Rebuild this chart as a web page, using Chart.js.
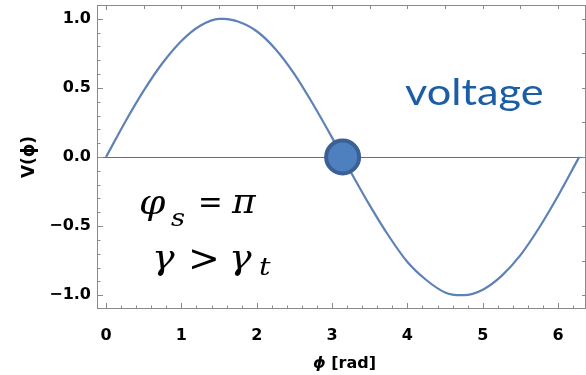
<!DOCTYPE html>
<html>
<head>
<meta charset="utf-8">
<script src="https://cdn.jsdelivr.net/npm/chart.js@4/dist/chart.umd.min.js"></script>
<style>
  html, body { margin: 0; padding: 0; background: #ffffff; }
  #wrap { position: relative; width: 586px; height: 375px; }
</style>
</head>
<body>
<div id="wrap"><canvas id="c" width="586" height="375"></canvas></div>
<script>
// Phase samples (rad) and the voltage read at each of them
const phase   = [0, 0.25, 0.5, 0.75, 1.0, 1.25, 1.5, 1.57, 1.75, 2.0, 2.25, 2.5, 2.75, 3.0, 3.25, 3.5, 3.75, 4.0, 4.25, 4.5, 4.71, 4.75, 5.0, 5.25, 5.5, 5.75, 6.0, 6.25, 6.28];
const voltage = [0, 0.25, 0.48, 0.68, 0.84, 0.95, 1.00, 1.00, 0.98, 0.91, 0.78, 0.60, 0.38, 0.14, -0.11, -0.35, -0.57, -0.76, -0.89, -0.98, -1.00, -1.00, -0.96, -0.86, -0.71, -0.51, -0.28, -0.03, 0.00];

// Synchronous phase marker
const syncPhase = [3.14];
const syncVolt  = [0];

// Tick labels
const xTickValues = [0, 1, 2, 3, 4, 5, 6];
const yTickValues = [-1, -0.5, 0, 0.5, 1];
const yTickLabels = ['\u22121.0', '\u22120.5', '0.0', '0.5', '1.0'];

const curve = phase.map((p, i) => ({ x: p, y: voltage[i] }));
const marker = syncPhase.map((p, i) => ({ x: p, y: syncVolt[i] }));

const FRAME = '#8a8a8a';
const AXIS_FONT = '"DejaVu Sans", "Liberation Sans", sans-serif';

// Mathematica-style frame with inward ticks on all four sides
const framePlugin = {
  id: 'frame',
  afterDraw(chart) {
    const { ctx, chartArea: a, scales: { x, y } } = chart;
    ctx.save();
    ctx.strokeStyle = FRAME;
    ctx.lineWidth = 1;
    ctx.strokeRect(a.left + 0.5, a.top + 0.5, a.right - a.left - 1, a.bottom - a.top - 1);
    ctx.beginPath();
    const eps = 1e-6;
    // bottom: minor every 0.2, major on integers
    for (let i = 0; i / 5 <= x.max + eps; i++) {
      const px = Math.round(x.getPixelForValue(i / 5)) + 0.5;
      const len = (i % 5 === 0) ? 6 : 3.5;
      ctx.moveTo(px, a.bottom); ctx.lineTo(px, a.bottom - len);
    }
    // top: every 0.5
    for (let i = 0; i / 2 <= x.max + eps; i++) {
      const px = Math.round(x.getPixelForValue(i / 2)) + 0.5;
      ctx.moveTo(px, a.top); ctx.lineTo(px, a.top + (i === 0 ? 5 : 4));
    }
    // left: minor every 0.1, major every 0.5
    for (let i = -10; i <= 10; i++) {
      const py = Math.round(y.getPixelForValue(i / 10)) + 0.5;
      const len = (i % 5 === 0) ? 6 : 3.5;
      ctx.moveTo(a.left, py); ctx.lineTo(a.left + len, py);
    }
    // right: every 0.25
    for (let i = -4; i <= 4; i++) {
      const py = Math.round(y.getPixelForValue(i / 4)) + 0.5;
      ctx.moveTo(a.right, py); ctx.lineTo(a.right - 4, py);
    }
    ctx.stroke();
    ctx.restore();
  }
};

// One glyph run, optionally stretched horizontally about its left edge
function glyph(ctx, text, font, x, baseline, sx) {
  ctx.save();
  ctx.font = font;
  ctx.translate(x, baseline);
  ctx.scale(sx || 1, 1);
  ctx.fillText(text, 0, 0);
  ctx.restore();
}

const notesPlugin = {
  id: 'notes',
  afterDraw(chart) {
    const ctx = chart.ctx;
    const a = chart.chartArea;
    ctx.save();
    ctx.textBaseline = 'alphabetic';
    ctx.textAlign = 'left';

    // series name
    ctx.fillStyle = '#1c5ea6';
    glyph(ctx, 'voltage', '37px Lato, "Open Sans", sans-serif', 405, 105, 1.17);

    // synchronous phase conditions
    ctx.fillStyle = '#000000';
    const it = 'italic 36px "DejaVu Serif", serif';
    const sub = 'italic 25px "DejaVu Serif", serif';
    const up = '31px "DejaVu Serif", serif';
    const upBig = '38px "DejaVu Serif", serif';
    glyph(ctx, '\u03C6', it, 139, 214, 1.05);
    glyph(ctx, 's', sub, 171, 226, 1.1);
    glyph(ctx, '=', up, 198, 213, 0.95);
    glyph(ctx, '\u03C0', it, 232, 213, 1.0);

    glyph(ctx, '\u03B3', it, 152, 269, 1.05);
    glyph(ctx, '>', upBig, 188, 271, 1.0);
    glyph(ctx, '\u03B3', it, 229, 269, 1.05);
    glyph(ctx, 't', sub, 259, 275, 1.15);

    // horizontal axis title: italic phase symbol followed by the unit
    ctx.fillStyle = '#000000';
    const fSym = 'italic bold 16px ' + AXIS_FONT;
    const fUnit = 'bold 16px ' + AXIS_FONT;
    ctx.font = fSym;  const w1 = ctx.measureText('\u03D5').width;
    ctx.font = fUnit; const w2 = ctx.measureText(' [rad]').width;
    const cx = (a.left + a.right) / 2 + 3;
    const x0 = cx - (w1 + w2) / 2;
    ctx.font = fSym;  ctx.fillText('\u03D5', x0, 368);
    ctx.font = fUnit; ctx.fillText(' [rad]', x0 + w1, 368);
    ctx.restore();
  }
};

new Chart(document.getElementById('c'), {
  type: 'scatter',
  data: {
    datasets: [
      {
        label: 'synchronous phase',
        data: marker,
        order: 0,
        pointRadius: 16.5,
        pointHoverRadius: 16.5,
        pointBackgroundColor: '#4e80bf',
        pointBorderColor: '#3a6096',
        pointBorderWidth: 4
      },
      {
        label: 'V(\u03D5)',
        data: curve,
        order: 1,
        showLine: true,
        pointRadius: 0,
        borderColor: '#5e81b6',
        borderWidth: 2.2,
        cubicInterpolationMode: 'monotone',
        fill: false
      }
    ]
  },
  options: {
    responsive: false,
    animation: false,
    events: [],
    layout: { autoPadding: false, padding: { left: 0, top: 5, right: 0, bottom: 0 } },
    plugins: { legend: { display: false }, tooltip: { enabled: false } },
    scales: {
      x: {
        type: 'linear',
        min: -0.12,
        max: 6.37,
        afterBuildTicks(s) { s.ticks = xTickValues.map(v => ({ value: v })); },
        afterFit(s) { s.height = 66; s.paddingLeft = 0; s.paddingRight = 0; },
        grid: { display: false },
        border: { display: false },
        ticks: {
          color: '#000',
          font: { family: AXIS_FONT, size: 16, weight: 'bold' },
          padding: 9,
          maxRotation: 0,
          callback: v => String(v)
        },
        title: { display: false }
      },
      y: {
        type: 'linear',
        min: -1.1,
        max: 1.1,
        afterBuildTicks(s) { s.ticks = yTickValues.map(v => ({ value: v })); },
        afterFit(s) { s.width = 97; s.paddingTop = 0; s.paddingBottom = 0; },
        grid: {
          display: true,
          drawTicks: false,
          lineWidth: 1,
          color: c => (c.tick && c.tick.value === 0) ? '#6e6e6e' : 'rgba(0,0,0,0)'
        },
        border: { display: false },
        ticks: {
          color: '#000',
          font: { family: AXIS_FONT, size: 16, weight: 'bold' },
          padding: 6,
          callback: (v) => yTickLabels[yTickValues.indexOf(v)]
        },
        title: {
          display: true,
          text: 'V(\u03D5)',
          color: '#000',
          font: { family: AXIS_FONT, size: 17, weight: 'bold' },
          padding: { top: 19, bottom: 0 }
        }
      }
    }
  },
  plugins: [framePlugin, notesPlugin]
});
</script>
</body>
</html>
